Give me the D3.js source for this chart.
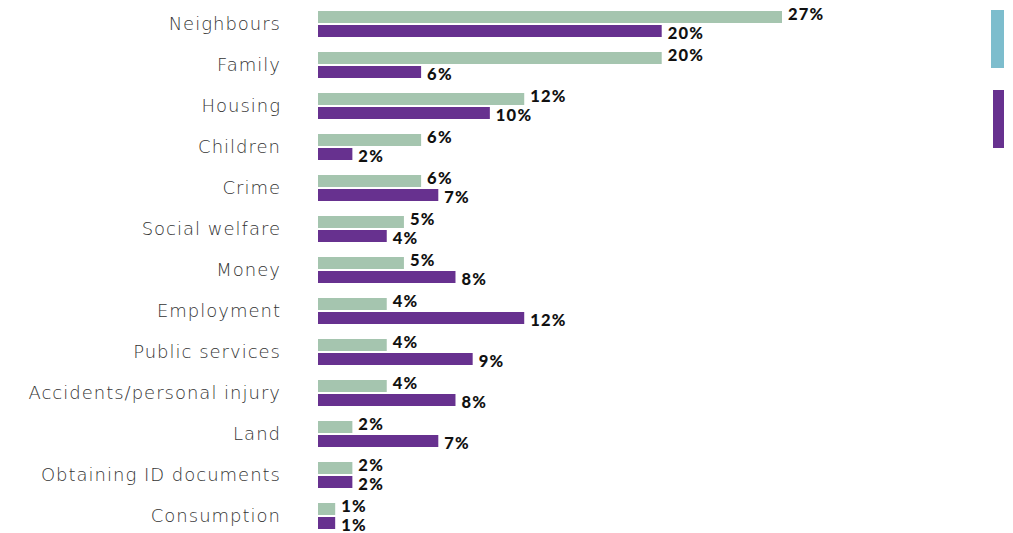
<!DOCTYPE html>
<html>
<head>
<meta charset="utf-8">
<script src="https://cdn.jsdelivr.net/npm/d3@7"></script>
<style>
  html, body { margin: 0; padding: 0; background: #ffffff; }
  svg { display: block; }
</style>
</head>
<body>
<svg id="chart" width="1013" height="533"></svg>
<script>
// Problem types, top to bottom
const categories = [
  "Neighbours", "Family", "Housing", "Children", "Crime", "Social welfare",
  "Money", "Employment", "Public services", "Accidents/personal injury",
  "Land", "Obtaining ID documents", "Consumption"
];
// Share of respondents (%), first series (green) and second series (purple)
const seriesA = [27, 20, 12, 6, 6, 5, 5, 4, 4, 4, 2, 2, 1];
const seriesB = [20, 6, 10, 2, 7, 4, 8, 12, 9, 8, 7, 2, 1];
const seriesColors = ["#a5c5af", "#67318f"];
const legendColors = ["#7dbdcd", "#67318f"];

const svg = d3.select("#chart");

const x = d3.scaleLinear().domain([0, 27]).range([318, 782]);
const y = d3.scaleBand().domain(categories).range([11, 11 + 41 * categories.length]);
const barH = 12, gap = 2;

// Category labels
svg.append("g").selectAll("text")
  .data(categories)
  .join("text")
  .attr("x", 281)
  .attr("y", d => y(d) + 18.5)
  .attr("text-anchor", "end")
  .attr("font-family", "'DejaVu Sans', sans-serif")
  .attr("font-weight", 300)
  .attr("font-size", 18)
  .attr("letter-spacing", 1)
  .attr("fill", "#333333")
  .text(d => d);

const rows = categories.map((c, i) => ({ c, a: seriesA[i], b: seriesB[i] }));

const groups = svg.append("g").selectAll("g")
  .data(rows)
  .join("g")
  .attr("transform", d => `translate(0,${y(d.c)})`);

// Bars
groups.append("rect")
  .attr("x", x(0)).attr("y", 0)
  .attr("width", d => x(d.a) - x(0)).attr("height", barH)
  .attr("fill", seriesColors[0]);
groups.append("rect")
  .attr("x", x(0)).attr("y", barH + gap)
  .attr("width", d => x(d.b) - x(0)).attr("height", barH)
  .attr("fill", seriesColors[1]);

// Value labels
const labelStyle = sel => sel
  .attr("font-family", "Lato, sans-serif")
  .attr("font-weight", 900)
  .attr("font-size", 16.5)
  .attr("letter-spacing", 1.2)
  .attr("fill", "#111");
groups.append("text")
  .attr("x", d => x(d.a) + 6)
  .attr("y", 9)
  .call(labelStyle)
  .text(d => d.a + "%");
groups.append("text")
  .attr("x", d => x(d.b) + 6)
  .attr("y", 27.5)
  .call(labelStyle)
  .text(d => d.b + "%");

// Legend swatches at the right edge
svg.append("g").selectAll("rect")
  .data(legendColors)
  .join("rect")
  .attr("x", (d, i) => i === 0 ? 991 : 993)
  .attr("y", (d, i) => 10 + i * 80)
  .attr("width", (d, i) => i === 0 ? 13 : 11)
  .attr("height", 58)
  .attr("fill", d => d);
</script>
</body>
</html>
